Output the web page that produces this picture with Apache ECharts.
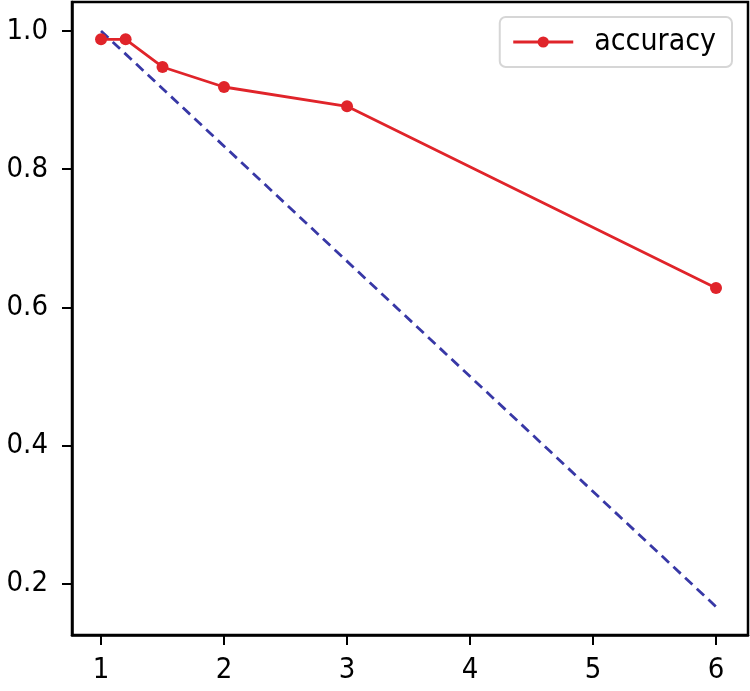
<!DOCTYPE html>
<html>
<head>
<meta charset="utf-8">
<script src="https://cdn.jsdelivr.net/npm/echarts@6/dist/echarts.min.js"></script>
<style>
  html, body { margin: 0; padding: 0; background: #fff; }
  #chart { width: 750px; height: 691px; }
</style>
</head>
<body>
<div id="chart"></div>
<script>
// accuracy curve
var accX = [1, 1.2, 1.5, 2, 3, 6];
var accY = [0.988, 0.988, 0.948, 0.919, 0.891, 0.628];
// dashed reference line
var refX = [1, 6];
var refY = [1.0, 0.167];
var xTicks = [1, 2, 3, 4, 5, 6];
var yTicks = [0.2, 0.4, 0.6, 0.8, 1.0];

var chart = echarts.init(document.getElementById("chart"));

function pairs(xs, ys) {
  return xs.map(function (x, i) { return [x, ys[i]]; });
}

var font = "DejaVu Sans Condensed";

var option = {
  animation: false,
  textStyle: { fontFamily: font },
  grid: {
    left: 72, right: 2, top: 2, bottom: 56,
    show: true, borderColor: "#000", borderWidth: 2.5, backgroundColor: "#fff"
  },
  legend: {
    right: 18, top: 17,
    data: ["accuracy"],
    itemWidth: 60, itemHeight: 14,
    padding: [10, 16, 10, 12],
    lineStyle: { width: 3 },
    borderColor: "#d6d6d6", borderWidth: 2, borderRadius: 6,
    textStyle: { fontSize: 30, color: "#000", fontFamily: font, padding: [0, 0, 0, 16] }
  },
  xAxis: {
    type: "value",
    min: 0.764, max: 6.26,
    splitLine: { show: false },
    axisLine: { show: true, lineStyle: { color: "#000", width: 2.5 } },
    axisTick: { show: true, length: 10, lineStyle: { color: "#000", width: 2 }, customValues: xTicks },
    axisLabel: { fontSize: 29, color: "#000", margin: 21, fontFamily: font, customValues: xTicks, formatter: function (v) { return String(v); } }
  },
  yAxis: {
    type: "value",
    min: 0.126, max: 1.042,
    splitLine: { show: false },
    axisLine: { show: true, lineStyle: { color: "#000", width: 2.5 } },
    axisTick: { show: true, length: 10, lineStyle: { color: "#000", width: 2 }, customValues: yTicks },
    axisLabel: { fontSize: 29, color: "#000", margin: 24, fontFamily: font, customValues: yTicks, formatter: function (v) { return v.toFixed(1); } }
  },
  series: [
    {
      name: "ref",
      type: "line",
      data: pairs(refX, refY),
      showSymbol: false,
      lineStyle: { color: "#3838a6", width: 2.8, type: [10, 6] },
      z: 2
    },
    {
      name: "accuracy",
      type: "line",
      data: pairs(accX, accY),
      symbol: "circle",
      symbolSize: 12,
      itemStyle: { color: "#e0242a" },
      lineStyle: { color: "#e0242a", width: 2.8 },
      z: 3
    }
  ]
};

chart.setOption(option);
</script>
</body>
</html>
